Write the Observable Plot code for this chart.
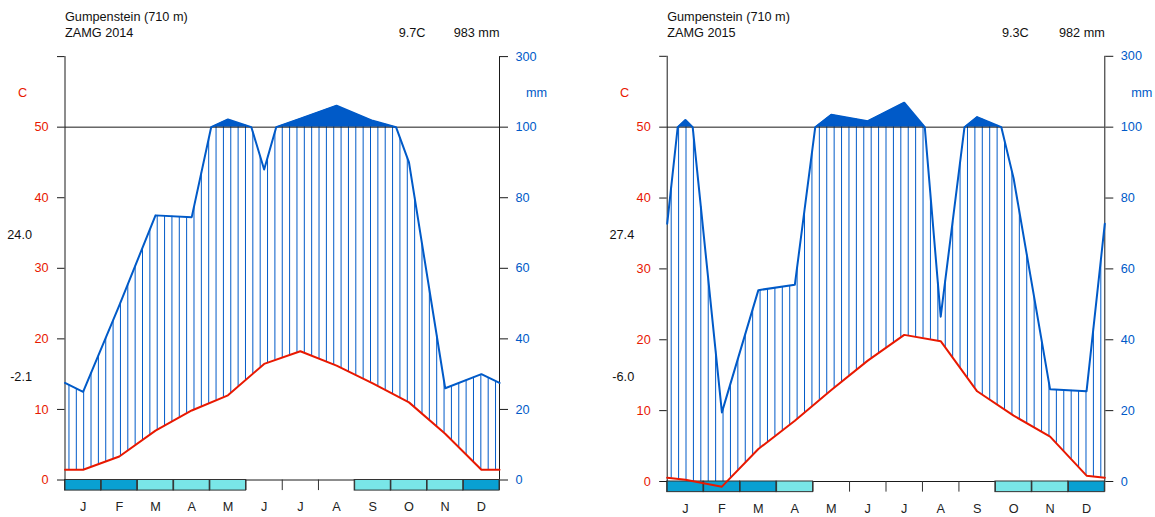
<!DOCTYPE html>
<html>
<head>
<meta charset="utf-8">
<script src="https://cdn.jsdelivr.net/npm/d3@7"></script>
<script src="https://cdn.jsdelivr.net/npm/@observablehq/plot@0.6"></script>
<style>
  html, body { margin: 0; padding: 0; background: #fff; }
  #wrap { position: relative; width: 1155px; height: 517px; overflow: hidden; }
  #wrap svg { position: absolute; top: 0; }
</style>
</head>
<body>
<div id="wrap"></div>
<script>
// ---------- data ----------
const months = ["J","F","M","A","M","J","J","A","S","O","N","D"];
const tempTicks = [0, 10, 20, 30, 40, 50, 60];
const tempTickLabels = ["0", "10", "20", "30", "40", "50", ""];
const precTickLabels = ["0", "20", "40", "60", "80", "100", "300"];

const station = "Gumpenstein (710 m)";
const periods = ["ZAMG 2014", "ZAMG 2015"];
const meanTemp = ["9.7C", "9.3C"];
const totalPrec = ["983 mm", "982 mm"];
const maxWarmest = ["24.0", "27.4"];
const minColdest = ["-2.1", "-6.0"];

// monthly mean temperature (C)
const temp2014 = [1.45, 3.33, 7.0, 9.85, 12.0, 16.45, 18.25, 16.2, 13.7, 11.0, 6.55, 1.45];
const temp2015 = [0.25, -0.73, 4.59, 8.58, 12.9, 17.06, 20.69, 19.8, 12.73, 9.29, 6.33, 0.82];
// monthly precipitation (mm)
const prec2014 = [25, 49.5, 75, 74.5, 122, 88, 124, 161, 118, 90, 26, 30];
const prec2015 = [120, 19.5, 54, 55.5, 135, 117, 169, 46.5, 128.5, 85.5, 26, 25.5];
// frost: 2 = sure frost, 1 = probable frost, 0 = none
const frost2014 = [2, 2, 1, 1, 1, 0, 0, 0, 1, 1, 1, 2];
const frost2015 = [2, 2, 2, 1, 0, 0, 0, 0, 0, 1, 1, 2];

// ---------- styling ----------
const PCOL = "#005ac8", TCOL = "#e81800", PFCOL = "#79e6e8", SFCOL = "#09a0d2";
const FONT = "'Liberation Sans', Arial, Helvetica, sans-serif";
const FS = 12.7;

// ---------- Walter-Lieth helpers ----------
const scaleP = p => p <= 100 ? p / 2 : 50 + (p - 100) / 20;
const wrap = a => [a[11], ...a, a[0]];
const xm = d3.range(14).map(i => i - 0.5);

function clipCurve(pts) {
  const out = [];
  for (let i = 0; i < pts.length; i++) {
    const a = pts[i];
    if (i > 0) {
      const b = pts[i - 1];
      for (const edge of [0, 12]) {
        if ((b.x - edge) * (a.x - edge) < 0) {
          const f = (edge - b.x) / (a.x - b.x);
          out.push({x: edge, y: b.y + f * (a.y - b.y)});
        }
      }
    }
    if (a.x >= 0 && a.x <= 12) out.push(a);
  }
  return out;
}

function buildPanel(temp, prec, frost, k, L) {
  const tw = wrap(temp), pw = wrap(prec);
  const tempCurve = clipCurve(xm.map((x, i) => ({x, y: tw[i]})));
  const raw = [];
  for (let i = 0; i < 14; i++) {
    if (i > 0 && (pw[i - 1] - 100) * (pw[i] - 100) < 0) {
      const f = (100 - pw[i - 1]) / (pw[i] - pw[i - 1]);
      raw.push({x: xm[i - 1] + f, y: 50});
    }
    raw.push({x: xm[i], y: scaleP(pw[i])});
  }
  const precCurve = clipCurve(raw);
  const interp = (arr, x) => {
    const j = Math.min(12, Math.floor(x + 0.5));
    const f = x + 0.5 - j;
    return arr[j] + f * (arr[j + 1] - arr[j]);
  };
  const hatch = d3.range(65).map(i => -0.5 + i * 13 / 64)
    .filter(x => x >= 0 && x <= 12)
    .map(x => ({x, t: interp(tw, x), p: scaleP(interp(pw, x))}))
    .filter(d => d.p > d.t);
  const boxes = frost.map((lvl, i) => ({i, lvl})).filter(d => d.lvl > 0);
  const T = (opts) => Object.assign({text: d => d, lineAnchor: "middle", fontSize: FS, fill: "#111"}, opts);

  const svg = Plot.plot({
    width: L.width, height: 517,
    marginLeft: L.ml, marginRight: L.mr, marginTop: L.mt, marginBottom: L.mb,
    x: {domain: [0, 12], axis: null},
    y: {domain: [0, 60]},
    style: {fontFamily: FONT, fontSize: FS + "px", background: "white", overflow: "visible"},
    marks: [
      Plot.ruleX(hatch, {x: "x", y1: "t", y2: "p", stroke: PCOL, strokeWidth: 1}),
      Plot.areaY(precCurve, {x: "x", y1: () => 50, y2: d => Math.max(50, d.y), fill: PCOL}),
      Plot.ruleY([0, 50], {y: d => d, stroke: "#1a1a1a", strokeWidth: 1}),
      Plot.rect(boxes.filter(d => d.lvl === 2), {x1: d => d.i, x2: d => d.i + 1, y1: () => -1.5, y2: () => 0, fill: SFCOL, stroke: "#333", strokeWidth: 1}),
      Plot.rect(boxes.filter(d => d.lvl === 1), {x1: d => d.i, x2: d => d.i + 1, y1: () => -1.5, y2: () => 0, fill: PFCOL, stroke: "#333", strokeWidth: 1}),
      Plot.ruleX(d3.range(13), {x: d => d, y1: () => -1.5, y2: () => 0, stroke: "#333", strokeWidth: 1}),
      Plot.ruleX([0, 12], {x: d => d, y1: () => 0, y2: () => 60, stroke: "#1a1a1a", strokeWidth: 1}),
      Plot.axisY({anchor: "left", ticks: tempTicks, tickSize: 7.5, tickPadding: 9, label: null,
        tickFormat: d => tempTickLabels[tempTicks.indexOf(d)], color: TCOL, stroke: "#1a1a1a", fontSize: FS}),
      Plot.axisY({anchor: "right", ticks: tempTicks, tickSize: 8, tickPadding: 8, label: null,
        tickFormat: d => precTickLabels[tempTicks.indexOf(d)], color: PCOL, stroke: "#1a1a1a", fontSize: FS}),
      Plot.line(tempCurve, {x: "x", y: "y", stroke: TCOL, strokeWidth: 2}),
      Plot.line(precCurve, {x: "x", y: "y", stroke: PCOL, strokeWidth: 2}),
      Plot.text(months, T({x: (d, i) => i + 0.5, frameAnchor: "bottom", dy: 27.3, fill: "#222"})),
      Plot.text([station], T({frameAnchor: "top-left", dy: 16.7 - L.mt, textAnchor: "start"})),
      Plot.text([periods[k]], T({frameAnchor: "top-left", dy: 32.3 - L.mt, textAnchor: "start"})),
      Plot.text([meanTemp[k]], T({frameAnchor: "top-right", dx: -L.meanOff, dy: 32.3 - L.mt, textAnchor: "end"})),
      Plot.text([totalPrec[k]], T({frameAnchor: "top-right", dy: 32.3 - L.mt, textAnchor: "end"})),
      Plot.text(["C"], T({frameAnchor: "top-left", dx: -42.5, dy: 92.7 - L.mt, textAnchor: "middle", fill: TCOL})),
      Plot.text(["mm"], T({frameAnchor: "top-right", dx: 37, dy: 92.7 - L.mt, textAnchor: "middle", fill: PCOL})),
      Plot.text([maxWarmest[k]], T({frameAnchor: "top-left", dx: -33, dy: 234.2 - L.mt, textAnchor: "end"})),
      Plot.text([minColdest[k]], T({frameAnchor: "top-left", dx: -33, dy: 376 - L.mt, textAnchor: "end"}))
    ]
  });
  svg.style.left = L.left + "px";
  return svg;
}

const wrapDiv = document.getElementById("wrap");
wrapDiv.appendChild(buildPanel(temp2014, prec2014, frost2014, 0,
  {left: 0, width: 578, ml: 64.5, mr: 79, mt: 56.1, mb: 37.5, meanOff: 74}));
wrapDiv.appendChild(buildPanel(temp2015, prec2015, frost2015, 1,
  {left: 578, width: 577, ml: 88.7, mr: 50.7, mt: 55.8, mb: 36, meanOff: 76}));
</script>
</body>
</html>
